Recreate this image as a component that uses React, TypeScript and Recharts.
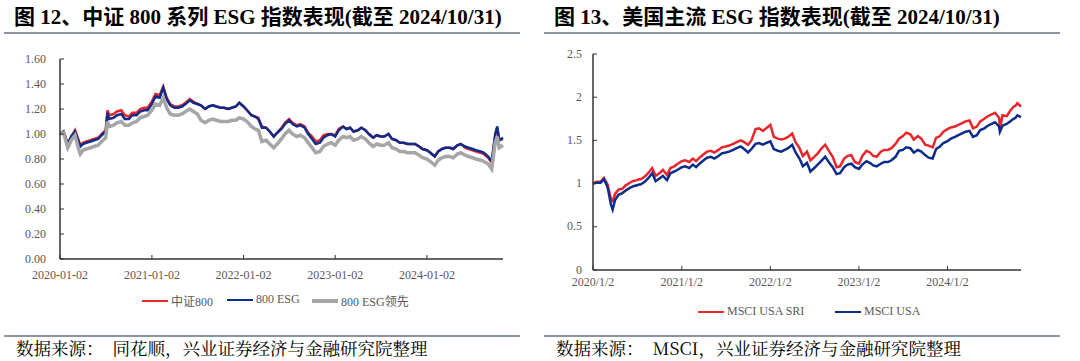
import { Line, LineChart, XAxis, YAxis } from 'recharts'

// sample dates (shared by both panels)
const DATES = [
  '2020-01-02', '2020-01-16', '2020-02-02', '2020-02-16', '2020-03-02', '2020-03-16', '2020-03-23', '2020-04-02', '2020-04-16',
  '2020-05-02', '2020-05-16', '2020-06-02', '2020-06-16', '2020-07-02', '2020-07-09', '2020-07-16', '2020-08-02', '2020-08-16',
  '2020-09-02', '2020-09-16', '2020-10-02', '2020-10-16', '2020-11-02', '2020-11-16', '2020-12-02', '2020-12-16',
  '2021-01-02', '2021-01-16', '2021-02-02', '2021-02-16', '2021-03-02', '2021-03-16', '2021-04-02', '2021-04-16',
  '2021-05-02', '2021-05-16', '2021-06-02', '2021-06-16', '2021-07-02', '2021-07-16', '2021-08-02', '2021-08-16',
  '2021-09-02', '2021-09-16', '2021-10-02', '2021-10-16', '2021-11-02', '2021-11-16', '2021-12-02', '2021-12-16',
  '2022-01-02', '2022-01-16', '2022-02-02', '2022-02-16', '2022-03-02', '2022-03-16', '2022-04-02', '2022-04-16',
  '2022-05-02', '2022-05-16', '2022-06-02', '2022-06-16', '2022-07-02', '2022-07-16', '2022-08-02', '2022-08-16',
  '2022-09-02', '2022-09-16', '2022-10-02', '2022-10-16', '2022-11-02', '2022-11-16', '2022-12-02', '2022-12-16',
  '2023-01-02', '2023-01-16', '2023-02-02', '2023-02-16', '2023-03-02', '2023-03-16', '2023-04-02', '2023-04-16',
  '2023-05-02', '2023-05-16', '2023-06-02', '2023-06-16', '2023-07-02', '2023-07-16', '2023-08-02', '2023-08-16',
  '2023-09-02', '2023-09-16', '2023-10-02', '2023-10-16', '2023-11-02', '2023-11-16', '2023-12-02', '2023-12-16',
  '2024-01-02', '2024-01-16', '2024-02-02', '2024-02-16', '2024-03-02', '2024-03-16', '2024-04-02', '2024-04-16',
  '2024-05-02', '2024-05-16', '2024-06-02', '2024-06-16', '2024-07-02', '2024-07-16', '2024-08-02', '2024-08-05',
  '2024-08-16', '2024-09-02', '2024-09-16', '2024-09-30', '2024-10-08', '2024-10-16', '2024-10-31',
]

// 图12
const CSI800 = [
  1.00, 1.02, 0.92, 0.98, 1.03, 0.95, 0.91, 0.93, 0.94, 0.95, 0.96, 0.97, 1.00, 1.03, 1.19, 1.15, 1.16, 1.18, 1.19, 1.15, 1.14, 1.17, 1.17, 1.20, 1.21, 1.21,
  1.26, 1.32, 1.31, 1.38, 1.29, 1.24, 1.22, 1.22, 1.23, 1.25, 1.28, 1.26, 1.24, 1.23, 1.20, 1.22, 1.23, 1.22, 1.21, 1.21, 1.20, 1.21, 1.22, 1.25,
  1.22, 1.19, 1.15, 1.14, 1.13, 1.06, 1.05, 1.02, 0.98, 1.01, 1.05, 1.09, 1.12, 1.09, 1.07, 1.08, 1.06, 1.01, 0.98, 0.94, 0.95, 0.99, 1.00, 1.00,
  0.99, 1.04, 1.06, 1.04, 1.05, 1.02, 1.03, 1.05, 1.03, 1.00, 0.97, 0.99, 0.98, 0.98, 1.00, 0.96, 0.95, 0.93, 0.93, 0.92, 0.92, 0.92, 0.90, 0.88,
  0.87, 0.85, 0.82, 0.86, 0.88, 0.89, 0.89, 0.88, 0.91, 0.92, 0.89, 0.88, 0.87, 0.86, 0.85, 0.85, 0.84, 0.81, 0.77, 0.99, 1.05, 0.95, 0.96,
]
const ESG800 = [
  1.00, 1.02, 0.92, 0.98, 1.02, 0.94, 0.90, 0.92, 0.93, 0.94, 0.95, 0.96, 0.99, 1.02, 1.17, 1.12, 1.13, 1.15, 1.16, 1.12, 1.12, 1.15, 1.15, 1.18, 1.19, 1.19,
  1.24, 1.30, 1.29, 1.37, 1.28, 1.23, 1.21, 1.21, 1.22, 1.24, 1.27, 1.25, 1.24, 1.23, 1.20, 1.22, 1.23, 1.22, 1.21, 1.21, 1.20, 1.21, 1.22, 1.25,
  1.22, 1.19, 1.15, 1.14, 1.12, 1.05, 1.05, 1.02, 0.98, 1.01, 1.04, 1.08, 1.11, 1.08, 1.06, 1.07, 1.05, 1.00, 0.96, 0.92, 0.93, 0.97, 0.99, 1.00,
  0.98, 1.03, 1.06, 1.04, 1.05, 1.02, 1.03, 1.05, 1.03, 1.00, 0.97, 0.99, 0.98, 0.98, 1.00, 0.96, 0.95, 0.93, 0.93, 0.92, 0.92, 0.92, 0.90, 0.88,
  0.87, 0.85, 0.82, 0.86, 0.88, 0.89, 0.89, 0.88, 0.91, 0.92, 0.90, 0.89, 0.88, 0.87, 0.86, 0.86, 0.85, 0.82, 0.78, 1.00, 1.06, 0.95, 0.97,
]
const ESG800_LEAD = [
  1.00, 1.01, 0.89, 0.95, 0.99, 0.88, 0.84, 0.87, 0.88, 0.89, 0.90, 0.91, 0.94, 0.97, 1.10, 1.06, 1.07, 1.09, 1.10, 1.07, 1.07, 1.09, 1.10, 1.13, 1.14, 1.15,
  1.19, 1.24, 1.23, 1.29, 1.21, 1.16, 1.15, 1.15, 1.16, 1.18, 1.20, 1.18, 1.16, 1.11, 1.09, 1.11, 1.12, 1.11, 1.10, 1.10, 1.10, 1.11, 1.11, 1.13,
  1.12, 1.10, 1.06, 1.04, 1.03, 0.94, 0.95, 0.92, 0.89, 0.92, 0.96, 1.00, 1.03, 1.00, 0.98, 0.99, 0.97, 0.93, 0.89, 0.85, 0.86, 0.90, 0.92, 0.93,
  0.91, 0.95, 0.98, 0.97, 0.98, 0.95, 0.96, 0.98, 0.96, 0.93, 0.90, 0.92, 0.91, 0.91, 0.93, 0.89, 0.88, 0.86, 0.86, 0.85, 0.85, 0.85, 0.83, 0.81,
  0.80, 0.78, 0.75, 0.79, 0.81, 0.82, 0.82, 0.81, 0.84, 0.85, 0.83, 0.82, 0.81, 0.80, 0.79, 0.79, 0.78, 0.76, 0.72, 0.93, 0.98, 0.89, 0.91,
]

// 图13
const MSCI_USA_SRI = [
  1.00, 1.02, 1.02, 1.065, 0.99, 0.82, 0.80, 0.88, 0.93, 0.94, 0.98, 1.01, 1.03, 1.04, 1.05, 1.05, 1.08, 1.12, 1.18, 1.09, 1.12, 1.16, 1.10, 1.18, 1.20, 1.23,
  1.26, 1.27, 1.25, 1.29, 1.26, 1.30, 1.34, 1.37, 1.38, 1.36, 1.39, 1.42, 1.43, 1.44, 1.46, 1.48, 1.50, 1.48, 1.45, 1.50, 1.63, 1.64, 1.61, 1.64,
  1.68, 1.54, 1.52, 1.51, 1.52, 1.54, 1.58, 1.48, 1.41, 1.32, 1.37, 1.27, 1.31, 1.35, 1.41, 1.45, 1.37, 1.31, 1.19, 1.20, 1.29, 1.32, 1.33, 1.25,
  1.23, 1.32, 1.38, 1.36, 1.32, 1.31, 1.37, 1.39, 1.39, 1.41, 1.46, 1.52, 1.55, 1.59, 1.57, 1.51, 1.55, 1.52, 1.45, 1.44, 1.42, 1.53, 1.55, 1.60,
  1.63, 1.65, 1.66, 1.68, 1.70, 1.72, 1.73, 1.64, 1.66, 1.72, 1.75, 1.78, 1.80, 1.82, 1.76, 1.63, 1.79, 1.78, 1.84, 1.89, 1.90, 1.93, 1.89,
]
const MSCI_USA = [
  1.00, 1.01, 1.01, 1.05, 0.96, 0.76, 0.70, 0.81, 0.87, 0.89, 0.92, 0.95, 0.97, 0.98, 0.99, 0.99, 1.02, 1.06, 1.12, 1.03, 1.06, 1.09, 1.04, 1.12, 1.14, 1.16,
  1.19, 1.20, 1.18, 1.22, 1.19, 1.23, 1.27, 1.30, 1.31, 1.29, 1.32, 1.35, 1.36, 1.37, 1.39, 1.41, 1.43, 1.40, 1.36, 1.40, 1.46, 1.47, 1.45, 1.47,
  1.49, 1.40, 1.38, 1.37, 1.39, 1.41, 1.45, 1.36, 1.29, 1.20, 1.24, 1.14, 1.18, 1.22, 1.27, 1.31, 1.24, 1.19, 1.11, 1.12, 1.19, 1.22, 1.23, 1.19,
  1.17, 1.22, 1.26, 1.24, 1.21, 1.20, 1.23, 1.25, 1.25, 1.27, 1.31, 1.38, 1.39, 1.42, 1.41, 1.36, 1.39, 1.37, 1.33, 1.30, 1.29, 1.40, 1.43, 1.47,
  1.49, 1.52, 1.54, 1.56, 1.58, 1.60, 1.61, 1.54, 1.56, 1.62, 1.64, 1.67, 1.69, 1.71, 1.66, 1.60, 1.67, 1.69, 1.72, 1.75, 1.76, 1.79, 1.77,
]

const X_TICKS = ['2020-01-02', '2021-01-02', '2022-01-02', '2023-01-02', '2024-01-02']
const X_END = '2024-10-31'
const Y_TICKS_CN = [0, 0.2, 0.4, 0.6, 0.8, 1.0, 1.2, 1.4, 1.6]
const Y_TICKS_US = [0, 0.5, 1, 1.5, 2, 2.5]

const ts = (d: string) => Date.parse(d)
const cnData = DATES.map((d, i) => ({ t: ts(d), a: CSI800[i], b: ESG800[i], c: ESG800_LEAD[i] }))
const usData = DATES.map((d, i) => ({ t: ts(d), sri: MSCI_USA_SRI[i], usa: MSCI_USA[i] }))

const SERIF = '"Liberation Serif", "Times New Roman", "Noto Sans CJK SC", serif'
const LABEL = '#595959'
const AXIS = '#333'
const RED = '#e8262b'
const NAVY = '#0c2c8c'
const GRAY = '#a6a6a6'
const RULE = '#8a94a3'

function YTick(props: any) {
  const { x, y, payload, gap, fmt } = props
  const ax = x + gap
  return (
    <g>
      <line x1={ax} x2={ax + 4} y1={y} y2={y} stroke={AXIS} strokeWidth={1} />
      <text x={x} y={y + 3.5} textAnchor="end" fill={LABEL} fontSize={12} fontFamily={SERIF}>
        {fmt(payload.value)}
      </text>
    </g>
  )
}

function XTick(props: any) {
  const { x, y, payload, gap, fmt } = props
  const ay = y - gap
  return (
    <g>
      <line x1={x} x2={x} y1={ay} y2={ay - 4} stroke={AXIS} strokeWidth={1} />
      <text x={x} y={y} textAnchor="middle" fill={LABEL} fontSize={12} fontFamily={SERIF}>
        {fmt(payload.value)}
      </text>
    </g>
  )
}

const fmtDash = (v: number) => new Date(v).toISOString().slice(0, 10)
const fmtSlash = (v: number) => {
  const d = new Date(v)
  return `${d.getUTCFullYear()}/${d.getUTCMonth() + 1}/${d.getUTCDate()}`
}

function LegendItem({ color, width, label, left }: { color: string; width: number; label: string; left: number }) {
  return (
    <div style={{ position: 'absolute', left, top: 0, display: 'flex', alignItems: 'center', whiteSpace: 'nowrap' }}>
      <span style={{ display: 'inline-block', width: 26, height: width, background: color, marginRight: 3 }} />
      <span style={{ fontSize: 12, color: LABEL, fontFamily: SERIF }}>{label}</span>
    </div>
  )
}

function Panel({ left, title, source, children }: { left: number; title: string; source: string; children: any }) {
  return (
    <div style={{ position: 'absolute', left, top: 0, width: 540, height: 361 }}>
      <div style={{ position: 'absolute', left: 14, top: 5, fontSize: 21, lineHeight: '24px', fontWeight: 'bold', fontFamily: SERIF, color: '#000', whiteSpace: 'nowrap' }}>
        {title}
      </div>
      <div style={{ position: 'absolute', left: 4, top: 32, width: 516, height: 2, background: RULE }} />
      {children}
      <div style={{ position: 'absolute', left: 4, top: 335, width: 516, height: 2, background: RULE }} />
      <div style={{ position: 'absolute', left: 16, top: 337, fontSize: 17.5, lineHeight: '22px', fontFamily: '"Noto Serif CJK SC", "Noto Sans CJK SC", serif', color: '#000', whiteSpace: 'pre' }}>
        {source}
      </div>
    </div>
  )
}

export default function App() {
  return (
    <div style={{ position: 'absolute', left: 0, top: 0, width: 1080, height: 361, background: '#fff', overflow: 'hidden' }}>
      <Panel left={0} title="图 12、中证 800 系列 ESG 指数表现(截至 2024/10/31)" source="数据来源：  同花顺，兴业证券经济与金融研究院整理">
        <div style={{ position: 'absolute', left: 0, top: 0 }}>
          <LineChart width={540} height={330} data={cnData} margin={{ top: 59, right: 37, left: 0, bottom: 41 }}>
            <XAxis
              dataKey="t"
              type="number"
              scale="time"
              height={30}
              domain={[ts(X_TICKS[0]), ts(X_END)]}
              ticks={X_TICKS.map(ts)}
              interval={0}
              axisLine={{ stroke: AXIS, strokeWidth: 1.5 }}
              tickLine={false}
              tickSize={0}
              tickMargin={20}
              tick={(p: any) => <XTick {...p} gap={20} fmt={fmtDash} />}
            />
            <YAxis
              width={60}
              domain={[0, 1.6]}
              ticks={Y_TICKS_CN}
              interval={0}
              axisLine={{ stroke: AXIS, strokeWidth: 1.5 }}
              tickLine={false}
              tickSize={0}
              tickMargin={14}
              tick={(p: any) => <YTick {...p} gap={14} fmt={(v: number) => v.toFixed(2)} />}
            />
            <Line dataKey="a" stroke={RED} strokeWidth={2.5} dot={false} isAnimationActive={false} />
            <Line dataKey="b" stroke={NAVY} strokeWidth={2.5} dot={false} isAnimationActive={false} />
            <Line dataKey="c" stroke={GRAY} strokeWidth={3.5} dot={false} isAnimationActive={false} />
          </LineChart>
        </div>
        <div style={{ position: 'absolute', left: 0, top: 292, width: 540, height: 16 }}>
          <LegendItem color={RED} width={2} label="中证800" left={142} />
          <LegendItem color={NAVY} width={2} label="800 ESG" left={227} />
          <LegendItem color={GRAY} width={4} label="800 ESG领先" left={312} />
        </div>
      </Panel>

      <Panel left={540} title="图 13、美国主流 ESG 指数表现(截至 2024/10/31)" source="数据来源：  MSCI，兴业证券经济与金融研究院整理">
        <div style={{ position: 'absolute', left: 0, top: 0 }}>
          <LineChart width={540} height={330} data={usData} margin={{ top: 54, right: 59, left: 0, bottom: 30 }}>
            <XAxis
              dataKey="t"
              type="number"
              scale="time"
              height={30}
              domain={[ts(X_TICKS[0]), ts(X_END)]}
              ticks={X_TICKS.map(ts)}
              interval={0}
              axisLine={{ stroke: AXIS, strokeWidth: 1.5 }}
              tickLine={false}
              tickSize={0}
              tickMargin={16}
              tick={(p: any) => <XTick {...p} gap={16} fmt={fmtSlash} />}
            />
            <YAxis
              width={53}
              domain={[0, 2.5]}
              ticks={Y_TICKS_US}
              interval={0}
              axisLine={{ stroke: AXIS, strokeWidth: 1.5 }}
              tickLine={false}
              tickSize={0}
              tickMargin={11}
              tick={(p: any) => <YTick {...p} gap={11} fmt={(v: number) => String(v)} />}
            />
            <Line dataKey="sri" stroke={RED} strokeWidth={2.5} dot={false} isAnimationActive={false} />
            <Line dataKey="usa" stroke={NAVY} strokeWidth={2.5} dot={false} isAnimationActive={false} />
          </LineChart>
        </div>
        <div style={{ position: 'absolute', left: 0, top: 304, width: 540, height: 16 }}>
          <LegendItem color={RED} width={2} label="MSCI USA SRI" left={158} />
          <LegendItem color={NAVY} width={2} label="MSCI USA" left={295} />
        </div>
      </Panel>
    </div>
  )
}
